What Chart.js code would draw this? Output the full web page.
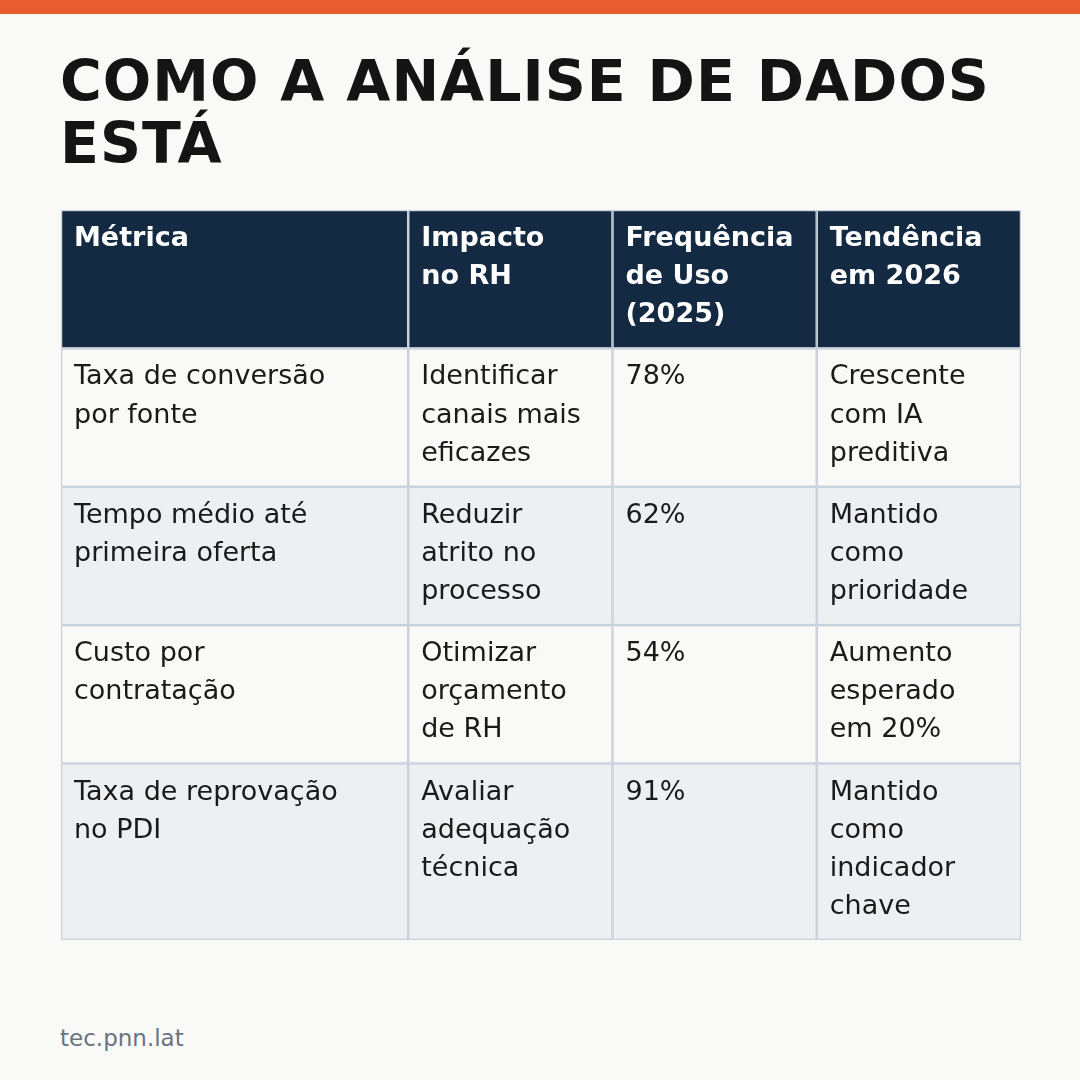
<!DOCTYPE html>
<html><head><meta charset="utf-8">
<script src="https://cdn.jsdelivr.net/npm/chart.js@4.4.1/dist/chart.umd.min.js"></script>
<style>
html,body{margin:0;padding:0;background:#f9f9f7;width:1080px;height:1080px;overflow:hidden;font-family:"DejaVu Sans",sans-serif}
#bar{position:absolute;left:0;top:0;width:1080px;height:14px;background:#e85d2f}
h1{position:absolute;left:60px;top:50px;margin:0;font-size:57px;line-height:62px;font-weight:bold;color:#141414;letter-spacing:1px}
#wrap{position:absolute;left:61px;top:210px;width:960px;height:730px}
#foot{position:absolute;left:60px;top:1025px;font-size:23px;color:#6b7380}
</style></head><body>
<div id="bar"></div>
<h1>COMO A ANÁLISE DE DADOS<br>ESTÁ</h1>
<div id="wrap"><canvas id="tableChart"></canvas></div>
<div id="foot">tec.pnn.lat</div>
<script>
// Table data
const headers = ['Métrica', 'Impacto\nno RH', 'Frequência\nde Uso\n(2025)', 'Tendência\nem 2026'];
const metrics = ['Taxa de conversão\npor fonte', 'Tempo médio até\nprimeira oferta', 'Custo por\ncontratação', 'Taxa de reprovação\nno PDI'];
const impacts = ['Identificar\ncanais mais\neficazes', 'Reduzir\natrito no\nprocesso', 'Otimizar\norçamento\nde RH', 'Avaliar\nadequação\ntécnica'];
const usage = [78, 62, 54, 91];
const trends = ['Crescente\ncom IA\npreditiva', 'Mantido\ncomo\nprioridade', 'Aumento\nesperado\nem 20%', 'Mantido\ncomo\nindicador\nchave'];

// Relative column widths and row heights (in text lines)
const colWeights = [1.7, 1, 1, 1];
const rows = [headers].concat(metrics.map((m, i) => [m, impacts[i], usage[i] + '%', trends[i]]));
const rowLines = rows.map(r => Math.max(...r.map(c => c.split('\n').length)));
const rowPad = 0.63;

const colEdges = [0];
colWeights.forEach(w => colEdges.push(colEdges[colEdges.length - 1] + w));
const rowEdges = [0];
rowLines.forEach(n => rowEdges.push(rowEdges[rowEdges.length - 1] + n + rowPad));

const tablePlugin = {
    id: 'table',
    afterDraw(chart) {
        const ctx = chart.ctx;
        const xs = chart.scales.x, ys = chart.scales.y;
        const lineH = ys.getPixelForValue(1) - ys.getPixelForValue(0);
        rows.forEach((row, r) => {
            const y0 = ys.getPixelForValue(rowEdges[r]);
            const y1 = ys.getPixelForValue(rowEdges[r + 1]);
            row.forEach((cell, c) => {
                const x0 = xs.getPixelForValue(colEdges[c]);
                const x1 = xs.getPixelForValue(colEdges[c + 1]);
                ctx.fillStyle = r === 0 ? '#132a42' : (r % 2 === 0 ? '#edf0f3' : '#f9f9f7');
                ctx.fillRect(x0, y0, x1 - x0, y1 - y0);
                ctx.strokeStyle = '#c9d1db';
                ctx.lineWidth = 1.5;
                ctx.strokeRect(x0 + 0.5, y0 + 0.5, x1 - x0 - 1, y1 - y0 - 1);
                ctx.fillStyle = r === 0 ? '#ffffff' : '#1a1a1a';
                ctx.font = (r === 0 ? 'bold ' : '') + '27px "DejaVu Sans"';
                ctx.textBaseline = 'middle';
                cell.split('\n').forEach((ln, k) => {
                    ctx.fillText(ln, x0 + 13, y0 + 29 + k * lineH);
                });
            });
        });
    }
};

new Chart(document.getElementById('tableChart'), {
    type: 'scatter',
    data: { datasets: [{ data: [] }] },
    options: {
        responsive: true,
        maintainAspectRatio: false,
        animation: false,
        layout: { padding: 0 },
        plugins: { legend: { display: false }, tooltip: { enabled: false } },
        scales: {
            x: { type: 'linear', display: false, min: 0, max: colEdges[colEdges.length - 1] },
            y: { type: 'linear', display: false, reverse: true, min: 0, max: rowEdges[rowEdges.length - 1] }
        }
    },
    plugins: [tablePlugin]
});
</script>
</body></html>
